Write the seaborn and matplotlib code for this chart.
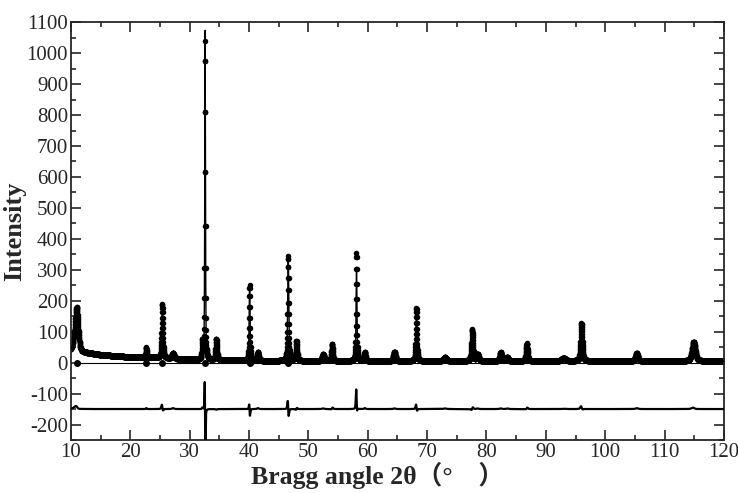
import numpy as np
import pandas as pd
import matplotlib
matplotlib.use("Agg")
import matplotlib.pyplot as plt
import seaborn as sns
from matplotlib.ticker import MultipleLocator

peak_pos   = [10.6, 11.0, 22.7, 25.4, 27.2, 32.15, 32.6, 34.5, 40.1, 41.5, 46.6, 48.0, 52.5, 54.0,
              58.1, 59.5, 64.5, 68.2, 73.0, 77.6, 78.5, 82.4, 83.5, 86.8, 93.0, 96.0, 105.3, 114.9]
obs_height = [35, 128, 33, 175, 18, 55, 1030, 68, 245, 28, 338, 63, 22, 55,
              350, 28, 30, 172, 12, 102, 22, 28, 12, 57, 10, 122, 25, 62]
calc_height = [32, 122, 30, 168, 15, 50, 1075, 70, 250, 25, 335, 62, 20, 52,
               305, 25, 28, 165, 10, 100, 20, 26, 10, 54, 9, 116, 22, 58]
calc_shift = [0.0, 0.01, 0.0, 0.01, 0.0, 0.0, 0.012, 0.0, 0.01, 0.0, 0.012, -0.01, 0.0, -0.01,
              0.012, 0.0, 0.0, 0.01, 0.0, -0.01, 0.0, 0.0, 0.0, -0.01, 0.0, 0.01, 0.0, 0.01]
peak_hwhm  = [0.5, 0.3, 0.1, 0.13, 0.2, 0.1, 0.07, 0.14, 0.09, 0.15, 0.11, 0.14, 0.2, 0.14,
              0.09, 0.15, 0.2, 0.12, 0.3, 0.16, 0.2, 0.2, 0.2, 0.16, 0.4, 0.18, 0.25, 0.32]

# Background knots
bg_angle = [10, 11.5, 13, 15, 20, 25, 30, 40, 60, 120]
bg_level = [25, 30, 30, 25, 18, 15, 10, 6, 5, 5]

# Reflection marks drawn at zero
mark_pos = [11.0, 22.7, 25.4, 32.6, 40.1, 46.6]

diff_offset = -150
step = 0.02

two_theta = np.arange(10, 120 + step / 2, step)
background = np.interp(two_theta, bg_angle, bg_level)


def profile(heights, shifts):
    y = background.copy()
    for c, h, s, w in zip(peak_pos, heights, shifts, peak_hwhm):
        u = (two_theta - c - s) / w
        y += h * (0.5 / (1 + u ** 2) + 0.5 * np.exp(-np.log(2) * u ** 2))
    return y


y_obs = profile(obs_height, [0.0] * len(peak_pos))
y_calc = profile(calc_height, calc_shift)
df = pd.DataFrame({"angle": two_theta, "obs": y_obs, "calc": y_calc,
                   "diff": y_obs - y_calc + diff_offset})

sns.set_style("ticks")
plt.rcParams["font.family"] = ["Liberation Serif", "Noto Sans CJK JP", "DejaVu Sans"]
plt.rcParams["axes.unicode_minus"] = False

fig, ax = plt.subplots(figsize=(7.38, 4.93), dpi=100)
fig.subplots_adjust(left=0.096, right=0.981, top=0.955, bottom=0.1075)

sns.scatterplot(data=df, x="angle", y="obs", ax=ax, color="black", s=16,
                linewidth=0, zorder=2)
sns.lineplot(data=df, x="angle", y="calc", ax=ax, color="black", lw=1.0, zorder=3)
sns.lineplot(data=df, x="angle", y="diff", ax=ax, color="black", lw=1.6, zorder=3)
ax.plot([11, 120], [0, 0], color="black", lw=0.8, zorder=1)
ax.scatter(mark_pos, [0] * len(mark_pos), color="black", s=16, zorder=2)

ax.set_xlim(10, 120)
ax.set_ylim(-250, 1100)
ax.xaxis.set_major_locator(MultipleLocator(10))
ax.xaxis.set_minor_locator(MultipleLocator(5))
ax.yaxis.set_major_locator(MultipleLocator(100))
ax.yaxis.set_minor_locator(MultipleLocator(50))
ax.tick_params(which="both", direction="in", top=True, right=True, labelsize=15,
               width=1.2, pad=2)
ax.tick_params(which="major", length=7)
ax.tick_params(which="minor", length=3.5)
for sp in ax.spines.values():
    sp.set_linewidth(1.3)

ax.set_xlabel("Bragg angle 2θ（°　）", fontsize=18.5, fontweight="bold", labelpad=0)
ax.xaxis.set_label_coords(0.47, -0.053)
ax.set_ylabel("Intensity", fontsize=19, fontweight="bold", labelpad=0)

fig.savefig("out.png", dpi=100)
